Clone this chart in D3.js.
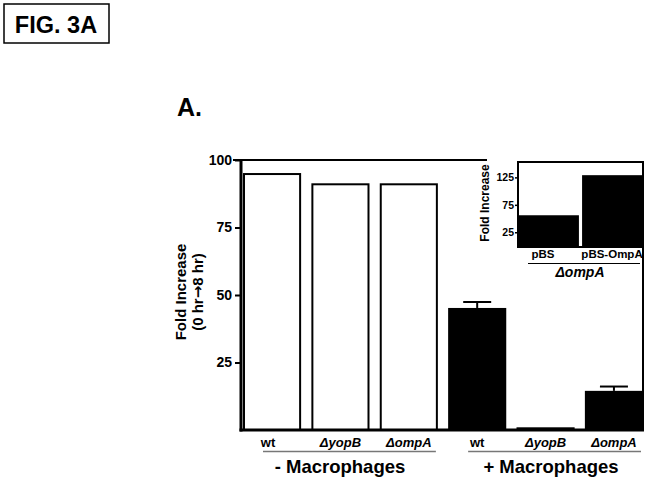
<!DOCTYPE html>
<html><head><meta charset="utf-8">
<script src="https://cdn.jsdelivr.net/npm/d3@7"></script>
<style>body{margin:0;background:#fff}svg{display:block}text{font-family:"Liberation Sans",Arial,sans-serif;font-weight:bold;fill:#000}</style>
</head><body>
<script>
const categories = ["wt","ΔyopB","ΔompA","wt","ΔyopB","ΔompA"];
const groups = ["-","-","-","+","+","+"];
const values = [94.8, 91, 91, 45.2, 1, 14.5];
const errors = [0, 0, 0, 2.2, 0, 1.6];
const yTicks = [25, 50, 75, 100];
const groupLabels = ["- Macrophages", "+ Macrophages"];
const insetCategories = ["pBS", "pBS-OmpA"];
const insetValues = [56, 129];
const insetTicks = [25, 75, 125];

const W = 649, H = 481;
const svg = d3.select("body").append("svg").attr("width", W).attr("height", H);

// Title box
svg.append("rect").attr("x",4).attr("y",4).attr("width",105).attr("height",39)
  .attr("fill","none").attr("stroke","#000").attr("stroke-width",1.5);
svg.append("text").attr("x",56).attr("y",33).attr("text-anchor","middle")
  .attr("font-size",23.5).text("FIG. 3A");
svg.append("text").attr("x",177).attr("y",116).attr("font-size",25).text("A.");

// Main scales
const x = d3.scaleBand().domain(d3.range(categories.length)).range([243, 643]).paddingInner(0.15).paddingOuter(0);
const y = d3.scaleLinear().domain([0, 100]).range([430, 160]);

// Bars
svg.selectAll("rect.bar").data(values).join("rect").attr("class","bar")
  .attr("x",(d,i)=>x(i)+(groups[i]==="-"?1:0))
  .attr("width",(d,i)=>x.bandwidth()-(groups[i]==="-"?2:0))
  .attr("y",d=>y(d)).attr("height",d=>y(0)-y(d))
  .attr("fill",(d,i)=>groups[i]==="-"?"#fff":"#000")
  .attr("stroke","#000").attr("stroke-width",(d,i)=>groups[i]==="-"?2:0);

// Error bars
values.forEach((v,i)=>{
  if(!errors[i]) return;
  const cx = x(i)+x.bandwidth()/2;
  svg.append("line").attr("x1",cx).attr("x2",cx).attr("y1",y(v)).attr("y2",y(v+errors[i])).attr("stroke","#000").attr("stroke-width",2);
  svg.append("line").attr("x1",cx-14).attr("x2",cx+14).attr("y1",y(v+errors[i])).attr("y2",y(v+errors[i])).attr("stroke","#000").attr("stroke-width",2);
});

// Axes
const yAxis = d3.axisLeft(y).tickValues(yTicks).tickSize(6).tickPadding(3);
const ya = svg.append("g").attr("transform","translate(241,0)").call(yAxis);
ya.select(".domain").remove();
ya.selectAll(".tick line").attr("stroke","#000").attr("stroke-width",2);
ya.selectAll(".tick text").attr("font-size",14).attr("font-weight","bold").attr("font-family","Liberation Sans, Arial, sans-serif");
svg.append("line").attr("x1",241).attr("x2",241).attr("y1",y(100)).attr("y2",y(0)+1.5).attr("stroke","#000").attr("stroke-width",3);
svg.append("line").attr("x1",239.5).attr("x2",644).attr("y1",y(0)).attr("y2",y(0)).attr("stroke","#000").attr("stroke-width",3);
// frame pieces
svg.append("line").attr("x1",233).attr("x2",487).attr("y1",y(100)).attr("y2",y(100)).attr("stroke","#000").attr("stroke-width",2);
svg.append("line").attr("x1",643).attr("x2",643).attr("y1",161).attr("y2",y(0)).attr("stroke","#000").attr("stroke-width",2);

// Y label
const yl = svg.append("text").attr("transform","translate(186,292) rotate(-90)").attr("text-anchor","middle").attr("font-size",15);
yl.append("tspan").attr("x",0).attr("dy",0).text("Fold Increase");
const l2 = yl.append("tspan").attr("x",0).attr("dy",17);
l2.append("tspan").text("(0 hr");
l2.append("tspan").attr("font-family","DejaVu Sans").attr("font-size",15).text("→");
l2.append("tspan").text("8 hr)");

// Category labels
categories.forEach((c,i)=>{
  const t = svg.append("text").attr("x",x(i)+x.bandwidth()/2+(i===0?-4:0)).attr("y",447).attr("text-anchor","middle").attr("font-size",13);
  if(c.startsWith("Δ")) t.attr("font-style","italic");
  t.text(c);
});
// group underlines and labels
[[0,2],[3,5]].forEach(([a,b],g)=>{
  const x1 = x(a)+20, x2 = x(b)+x.bandwidth()-2;
  svg.append("line").attr("x1",x1).attr("x2",x2).attr("y1",451.5).attr("y2",451.5).attr("stroke","#777").attr("stroke-width",1.5);
  svg.append("text").attr("x",g===0?340:551).attr("y",473).attr("text-anchor","middle").attr("font-size",18.5).text(groupLabels[g]);
});

// Inset
const ix = d3.scaleBand().domain(d3.range(insetCategories.length)).range([519, 642]).paddingInner(0.05).paddingOuter(0);
const iy = d3.scaleLinear().domain([0, 153]).range([246, 162]);
svg.selectAll("rect.ibar").data(insetValues).join("rect").attr("class","ibar")
  .attr("x",(d,i)=>ix(i)).attr("width",ix.bandwidth())
  .attr("y",d=>iy(d)).attr("height",d=>iy(0)-iy(d)).attr("fill","#000");
const iya = svg.append("g").attr("transform","translate(518,0)").call(d3.axisLeft(iy).tickValues(insetTicks).tickSize(3).tickPadding(1));
iya.select(".domain").remove();
iya.selectAll(".tick line").attr("stroke","#000").attr("stroke-width",1.5);
iya.selectAll(".tick text").attr("font-size",10.5).attr("font-family","Open Sans, sans-serif").attr("font-weight","bold");
svg.append("line").attr("x1",518).attr("x2",518).attr("y1",161).attr("y2",247.5).attr("stroke","#000").attr("stroke-width",2);
svg.append("line").attr("x1",517).attr("x2",643).attr("y1",247).attr("y2",247).attr("stroke","#000").attr("stroke-width",2);
svg.append("line").attr("x1",517).attr("x2",643).attr("y1",162).attr("y2",162).attr("stroke","#000").attr("stroke-width",2);
svg.append("text").attr("transform","translate(489,203) rotate(-90)").attr("text-anchor","middle")
  .attr("font-size",12).attr("font-family","Open Sans, sans-serif").text("Fold Increase");
insetCategories.forEach((c,i)=>{
  svg.append("text").attr("x",ix(i)+ix.bandwidth()/2+(i===0?-6:0)).attr("y",258).attr("text-anchor","middle")
    .attr("font-size",11.5).attr("font-family","Open Sans, sans-serif").text(c);
});
svg.append("line").attr("x1",528).attr("x2",640).attr("y1",263.5).attr("y2",263.5).attr("stroke","#000").attr("stroke-width",1);
svg.append("text").attr("x",580).attr("y",277).attr("text-anchor","middle").attr("font-size",14)
  .attr("font-style","italic").attr("font-family","Open Sans, sans-serif").text("ΔompA");
</script>
</body></html>
